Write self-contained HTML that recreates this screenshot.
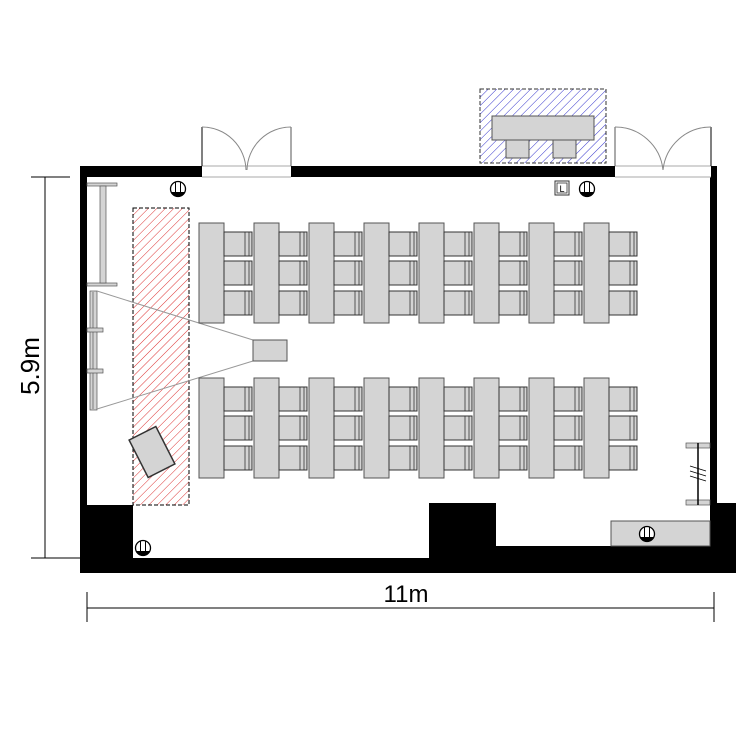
<!DOCTYPE html>
<html><head><style>html,body{margin:0;padding:0;background:#fff}svg{display:block}</style></head>
<body>
<svg width="750" height="750" viewBox="0 0 750 750" xmlns="http://www.w3.org/2000/svg">
<defs>
<pattern id="red" patternUnits="userSpaceOnUse" width="6" height="6" patternTransform="rotate(45)">
<line x1="0" y1="0" x2="0" y2="6" stroke="#d33" stroke-width="1"/></pattern>
<pattern id="blue" patternUnits="userSpaceOnUse" width="6" height="6" patternTransform="rotate(45)">
<line x1="0" y1="0" x2="0" y2="6" stroke="#33c" stroke-width="1"/></pattern>
<g id="chair"><rect x="0" y="0" width="28" height="24" fill="#d4d4d4" stroke="#333" stroke-width="1"/><line x1="21" y1="0" x2="21" y2="24" stroke="#333" stroke-width="0.8"/><line x1="25" y1="0" x2="25" y2="24" stroke="#333" stroke-width="0.8"/></g>
<g id="unit"><rect x="0" y="0" width="25" height="100" fill="#d4d4d4" stroke="#555" stroke-width="1"/>
<use href="#chair" x="25" y="9"/><use href="#chair" x="25" y="38"/><use href="#chair" x="25" y="68"/></g>
<g id="outlet"><circle cx="0" cy="0" r="7.5" fill="#fff" stroke="#000" stroke-width="1.3"/><line x1="-2.5" y1="-6.5" x2="-2.5" y2="3" stroke="#000"/><line x1="2.5" y1="-6.5" x2="2.5" y2="3" stroke="#000"/><path d="M-7 3 A7.5 7.5 0 0 0 7 3 Z" fill="#000"/></g>
</defs>
<rect x="80" y="166" width="637" height="11" fill="#000"/>
<rect x="80" y="166" width="7" height="407" fill="#000"/>
<rect x="710" y="166" width="7" height="407" fill="#000"/>
<rect x="80" y="558" width="650" height="15" fill="#000"/>
<rect x="80" y="505" width="53" height="68" fill="#000"/>
<rect x="429" y="503" width="67" height="55" fill="#000"/>
<rect x="496" y="546" width="240" height="27" fill="#000"/>
<rect x="710" y="503" width="26" height="70" fill="#000"/>
<rect x="202" y="166" width="89" height="11" fill="#fff"/>
<rect x="615" y="166" width="96" height="11" fill="#fff"/>
<g fill="none" stroke="#888" stroke-width="1">
<line x1="202" y1="166" x2="291" y2="166" stroke="#aaa"/><line x1="202" y1="177" x2="291" y2="177" stroke="#aaa"/>
<line x1="202" y1="127" x2="202" y2="166" stroke="#000"/><line x1="291" y1="127" x2="291" y2="166" stroke="#555"/>
<path d="M202 127 A44 44 0 0 1 246 170"/><path d="M291 127 A44 44 0 0 0 247 170"/>
<line x1="615" y1="166" x2="711" y2="166" stroke="#aaa"/><line x1="615" y1="177" x2="711" y2="177" stroke="#aaa"/>
<line x1="615" y1="127" x2="615" y2="166" stroke="#555"/><line x1="711" y1="127" x2="711" y2="166" stroke="#000"/>
<path d="M615 127 A48 48 0 0 1 663 170"/><path d="M711 127 A48 48 0 0 0 663 170"/>
</g>
<rect x="480" y="89" width="126" height="74" fill="url(#blue)" stroke="#333" stroke-dasharray="4,2"/>
<rect x="492" y="116" width="102" height="24" fill="#d4d4d4" stroke="#555"/>
<rect x="506" y="140" width="23" height="18" fill="#d4d4d4" stroke="#555"/>
<rect x="553" y="140" width="23" height="18" fill="#d4d4d4" stroke="#555"/>
<rect x="133" y="208" width="56" height="297" fill="url(#red)" stroke="#000" stroke-dasharray="4,2"/>
<rect x="137" y="431" width="30" height="42" fill="#d4d4d4" stroke="#333" stroke-width="1.5" transform="rotate(-27 152 452)"/>
<rect x="87" y="183" width="30" height="3" fill="#d4d4d4" stroke="#555" stroke-width="0.7"/>
<rect x="87" y="283" width="30" height="3" fill="#d4d4d4" stroke="#555" stroke-width="0.7"/>
<rect x="100" y="186" width="6" height="97" fill="#d4d4d4" stroke="#555" stroke-width="0.7"/>
<rect x="90" y="291" width="7" height="119" fill="#d4d4d4" stroke="#555" stroke-width="0.7"/>
<line x1="93" y1="292" x2="93" y2="409" stroke="#555" stroke-width="0.7"/>
<rect x="87" y="328" width="16" height="4" fill="#d4d4d4" stroke="#555" stroke-width="0.7"/>
<rect x="87" y="369" width="16" height="4" fill="#d4d4d4" stroke="#555" stroke-width="0.7"/>
<line x1="97" y1="291" x2="253" y2="340" stroke="#999"/>
<line x1="97" y1="409" x2="253" y2="361" stroke="#999"/>
<rect x="253" y="340" width="34" height="21" fill="#d4d4d4" stroke="#555"/>
<g>
<use href="#unit" x="199" y="223"/><use href="#unit" x="254" y="223"/><use href="#unit" x="309" y="223"/><use href="#unit" x="364" y="223"/>
<use href="#unit" x="419" y="223"/><use href="#unit" x="474" y="223"/><use href="#unit" x="529" y="223"/><use href="#unit" x="584" y="223"/>
<use href="#unit" x="199" y="378"/><use href="#unit" x="254" y="378"/><use href="#unit" x="309" y="378"/><use href="#unit" x="364" y="378"/>
<use href="#unit" x="419" y="378"/><use href="#unit" x="474" y="378"/><use href="#unit" x="529" y="378"/><use href="#unit" x="584" y="378"/>
</g>
<rect x="686" y="443" width="24" height="5" fill="#d4d4d4" stroke="#555" stroke-width="0.7"/>
<rect x="686" y="500" width="24" height="5" fill="#d4d4d4" stroke="#555" stroke-width="0.7"/>
<line x1="698" y1="443" x2="698" y2="505" stroke="#000" stroke-width="1.5"/>
<g stroke="#000" stroke-width="0.8"><line x1="690" y1="466" x2="706" y2="471"/><line x1="690" y1="471" x2="706" y2="476"/><line x1="690" y1="476" x2="706" y2="481"/></g>
<rect x="611" y="521" width="99" height="25" fill="#d4d4d4" stroke="#555"/>
<use href="#outlet" x="178" y="189"/><use href="#outlet" x="587" y="189"/>
<use href="#outlet" x="143" y="548"/><use href="#outlet" x="647" y="534"/>
<rect x="555" y="181" width="14" height="14" fill="#fff" stroke="#333"/>
<rect x="557" y="183" width="10" height="10" fill="#fff" stroke="#333" stroke-width="0.8"/>
<text x="562" y="192" font-family="Liberation Sans, sans-serif" font-size="9" text-anchor="middle">L</text>
<g stroke="#000" stroke-width="1">
<line x1="45" y1="177" x2="45" y2="558"/><line x1="31" y1="177" x2="70" y2="177"/><line x1="31" y1="558" x2="80" y2="558"/>
<line x1="87" y1="608" x2="714" y2="608"/><line x1="87" y1="592" x2="87" y2="622"/><line x1="714" y1="592" x2="714" y2="622"/>
</g>
<text x="406" y="602" font-family="Liberation Sans, sans-serif" font-size="24" text-anchor="middle">11m</text>
<text transform="translate(39,366) rotate(-90)" font-family="Liberation Sans, sans-serif" font-size="26" text-anchor="middle">5.9m</text>
</svg>
</body></html>
